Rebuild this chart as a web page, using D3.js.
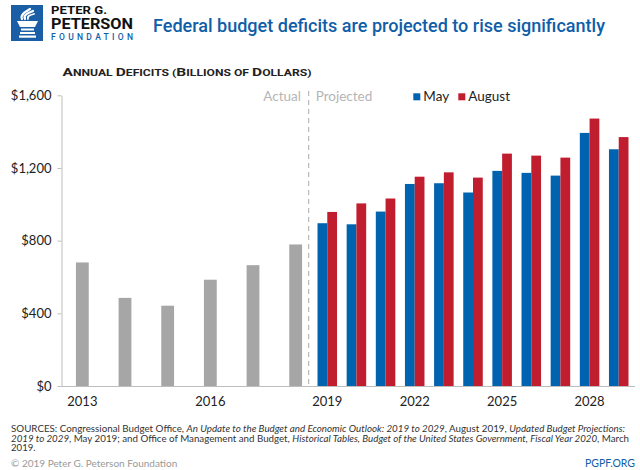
<!DOCTYPE html>
<html>
<head>
<meta charset="utf-8">
<script src="https://cdn.jsdelivr.net/npm/d3@7"></script>
<style>
  html, body { margin: 0; padding: 0; background: #fff; }
  svg { display: block; }
</style>
</head>
<body>
<svg id="chart" width="640" height="470"></svg>
<script>
// ---- data ----
const actualYears = [2013, 2014, 2015, 2016, 2017, 2018];
const actualValues = [680, 485, 442, 585, 665, 779];
const projYears = [2019, 2020, 2021, 2022, 2023, 2024, 2025, 2026, 2027, 2028, 2029];
const mayValues = [896, 890, 960, 1112, 1116, 1065, 1184, 1173, 1158, 1393, 1303];
const augustValues = [958, 1005, 1032, 1152, 1176, 1147, 1279, 1268, 1257, 1472, 1370];
const seriesNames = ["May", "August"];
const yTicks = [0, 400, 800, 1200, 1600];
const xTickLabels = ["2013", "2016", "2019", "2022", "2025", "2028"];

const BLUE = "#0063af", RED = "#c01e2e", GRAY = "#a6a6a6", BRAND = "#0f5ea8";
const svg = d3.select("#chart");

// ---- scales ----
const y = d3.scaleLinear().domain([0, 1600]).range([386, 95.3]);
const xA = d3.scaleBand().domain(actualYears).range([61, 317]).paddingInner(0.7).paddingOuter(0.35);
const xP = d3.scaleBand().domain(projYears).range([312.7, 633.3]).paddingInner(0.33).paddingOuter(0.165);
const xS = d3.scaleBand().domain(seriesNames).range([0, xP.bandwidth()]);
const color = d3.scaleOrdinal().domain(seriesNames).range([BLUE, RED]);

// ---- header / logo ----
const logo = svg.append("g");
logo.append("rect").attr("x", 11).attr("y", 5).attr("width", 32).attr("height", 36).attr("fill", "#1a5ea6");
// torch
const tg = logo.append("g").attr("fill", "none").attr("stroke", "#fff").attr("stroke-linecap", "round");
tg.append("path").attr("d", "M22,19 C20,15 25,12 30,9").attr("stroke-width", 2.2);
tg.append("path").attr("d", "M25,19 C23,15 28,13 33,11").attr("stroke-width", 2.2);
tg.append("path").attr("d", "M28,19 C27,16 30,15 34,14").attr("stroke-width", 1.8);
logo.append("path").attr("d", "M17,21 L38,21 L35,27 L20,27 Z").attr("fill", "#fff");
logo.append("rect").attr("x", 21).attr("y", 28.5).attr("width", 13).attr("height", 2).attr("fill", "#fff");
logo.append("rect").attr("x", 20).attr("y", 32).attr("width", 15).attr("height", 2).attr("fill", "#fff");
logo.append("rect").attr("x", 19).attr("y", 35.5).attr("width", 17).attr("height", 2.2).attr("fill", "#fff");

logo.append("text").attr("x", 51).attr("y", 13.5).text("PETER G.")
  .attr("font-family", "Roboto").attr("font-weight", 700).attr("font-size", 11.5).attr("fill", "#111")
  .attr("textLength", 56).attr("lengthAdjust", "spacingAndGlyphs");
logo.append("text").attr("x", 51).attr("y", 29).text("PETERSON")
  .attr("font-family", "Roboto").attr("font-weight", 700).attr("font-size", 14.5).attr("fill", "#111")
  .attr("textLength", 82).attr("lengthAdjust", "spacingAndGlyphs");
logo.append("text").attr("x", 51).attr("y", 40).text("FOUNDATION")
  .attr("font-family", "Roboto").attr("font-weight", 500).attr("font-size", 8.5).attr("fill", BRAND)
  .attr("textLength", 82).attr("lengthAdjust", "spacing");

svg.append("text").attr("x", 153).attr("y", 31.5)
  .text("Federal budget deficits are projected to rise significantly")
  .attr("font-family", "Roboto").attr("font-weight", 500).attr("font-size", 18.5).attr("fill", BRAND)
  .attr("textLength", 452).attr("lengthAdjust", "spacingAndGlyphs");

// ---- subtitle (small caps) ----
const sub = svg.append("text").attr("x", 62.5).attr("y", 75.7)
  .attr("font-family", "Roboto").attr("font-weight", 700).attr("fill", "#222")
  .attr("textLength", 249).attr("lengthAdjust", "spacingAndGlyphs");
const subParts = [["A", 1], ["NNUAL ", 0], ["D", 1], ["EFICITS (", 0], ["B", 1], ["ILLIONS OF ", 0], ["D", 1], ["OLLARS)", 0]];
subParts.forEach(([t, big]) => sub.append("tspan").attr("font-size", big ? 11 : 8.6).text(t));

// ---- axes ----
const yAxis = svg.append("g").attr("transform", "translate(61.5,0)")
  .call(d3.axisLeft(y).tickValues(yTicks).tickSize(4).tickSizeOuter(0).tickPadding(6)
    .tickFormat(d => "$" + d3.format(",")(d)));
yAxis.select(".domain").attr("stroke", "#bdbdbd");
yAxis.selectAll(".tick line").attr("stroke", "#bdbdbd");
yAxis.selectAll(".tick text").attr("font-family", "Lato").attr("font-size", 13).attr("fill", "#222");

svg.append("line").attr("x1", 61.5).attr("x2", 635).attr("y1", 386.5).attr("y2", 386.5)
  .attr("stroke", "#bdbdbd");

function styleX(g) {
  g.select(".domain").remove();
  g.selectAll(".tick line").remove();
  g.selectAll(".tick text").attr("font-family", "Lato").attr("font-size", 13).attr("fill", "#222");
}
svg.append("g").attr("transform", "translate(0,386)")
  .call(d3.axisBottom(xA).tickValues(actualYears.filter(d => xTickLabels.includes(String(d)))).tickSize(0).tickPadding(11))
  .call(styleX);
svg.append("g").attr("transform", "translate(0,386)")
  .call(d3.axisBottom(xP).tickValues(projYears.filter(d => xTickLabels.includes(String(d)))).tickSize(0).tickPadding(11))
  .call(styleX);

// ---- bars ----
svg.append("g").selectAll("rect").data(actualYears).join("rect")
  .attr("x", d => xA(d)).attr("width", xA.bandwidth())
  .attr("y", (d, i) => y(actualValues[i])).attr("height", (d, i) => y(0) - y(actualValues[i]))
  .attr("fill", GRAY);

const groups = svg.append("g").selectAll("g").data(projYears).join("g")
  .attr("transform", d => `translate(${xP(d)},0)`);
groups.selectAll("rect").data((d, i) => [
  { s: "May", v: mayValues[i] }, { s: "August", v: augustValues[i] }
]).join("rect")
  .attr("x", d => xS(d.s)).attr("width", xS.bandwidth())
  .attr("y", d => y(d.v)).attr("height", d => y(0) - y(d.v))
  .attr("fill", d => color(d.s));

// ---- divider & labels ----
svg.append("line").attr("x1", 308.7).attr("x2", 308.7).attr("y1", 91).attr("y2", 386)
  .attr("stroke", "#aaa").attr("stroke-width", 1).attr("stroke-dasharray", "5,4");
svg.append("text").attr("x", 301).attr("y", 101).attr("text-anchor", "end").text("Actual")
  .attr("font-family", "Lato").attr("font-size", 13.5).attr("fill", "#b5b5b5");
svg.append("text").attr("x", 315.7).attr("y", 101).text("Projected")
  .attr("font-family", "Lato").attr("font-size", 13.5).attr("fill", "#b5b5b5");

// ---- legend ----
const legend = svg.append("g");
const legX = [413.3, 458.3];
seriesNames.forEach((s, i) => {
  legend.append("rect").attr("x", legX[i]).attr("y", 93.3).attr("width", 7).attr("height", 7).attr("fill", color(s));
  legend.append("text").attr("x", legX[i] + 10).attr("y", 100.7).text(s)
    .attr("font-family", "Lato").attr("font-size", 13.5).attr("fill", "#222");
});

// ---- footer ----
const foot = svg.append("g").attr("font-family", "Lato").attr("font-size", 9.6).attr("fill", "#333");
const l1 = foot.append("text").attr("x", 11).attr("y", 432).attr("textLength", 614).attr("lengthAdjust", "spacingAndGlyphs");
l1.append("tspan").text("SOURCES: Congressional Budget Office, ");
l1.append("tspan").attr("font-style", "italic").text("An Update to the Budget and Economic Outlook: 2019 to 2029");
l1.append("tspan").text(", August 2019, ");
l1.append("tspan").attr("font-style", "italic").text("Updated Budget Projections:");
const l2 = foot.append("text").attr("x", 11).attr("y", 441.7).attr("textLength", 618).attr("lengthAdjust", "spacingAndGlyphs");
l2.append("tspan").attr("font-style", "italic").text("2019 to 2029");
l2.append("tspan").text(", May 2019; and Office of Management and Budget, ");
l2.append("tspan").attr("font-style", "italic").text("Historical Tables, Budget of the United States Government, Fiscal Year 2020");
l2.append("tspan").text(", March");
foot.append("text").attr("x", 11).attr("y", 451.2).text("2019.");

svg.append("text").attr("x", 11).attr("y", 466.5).text("© 2019 Peter G. Peterson Foundation")
  .attr("font-family", "Lato").attr("font-size", 10).attr("fill", "#999");
svg.append("text").attr("x", 635).attr("y", 466.5).attr("text-anchor", "end").text("PGPF.ORG")
  .attr("font-family", "Lato").attr("font-size", 10.5).attr("fill", BRAND);
</script>
</body>
</html>
